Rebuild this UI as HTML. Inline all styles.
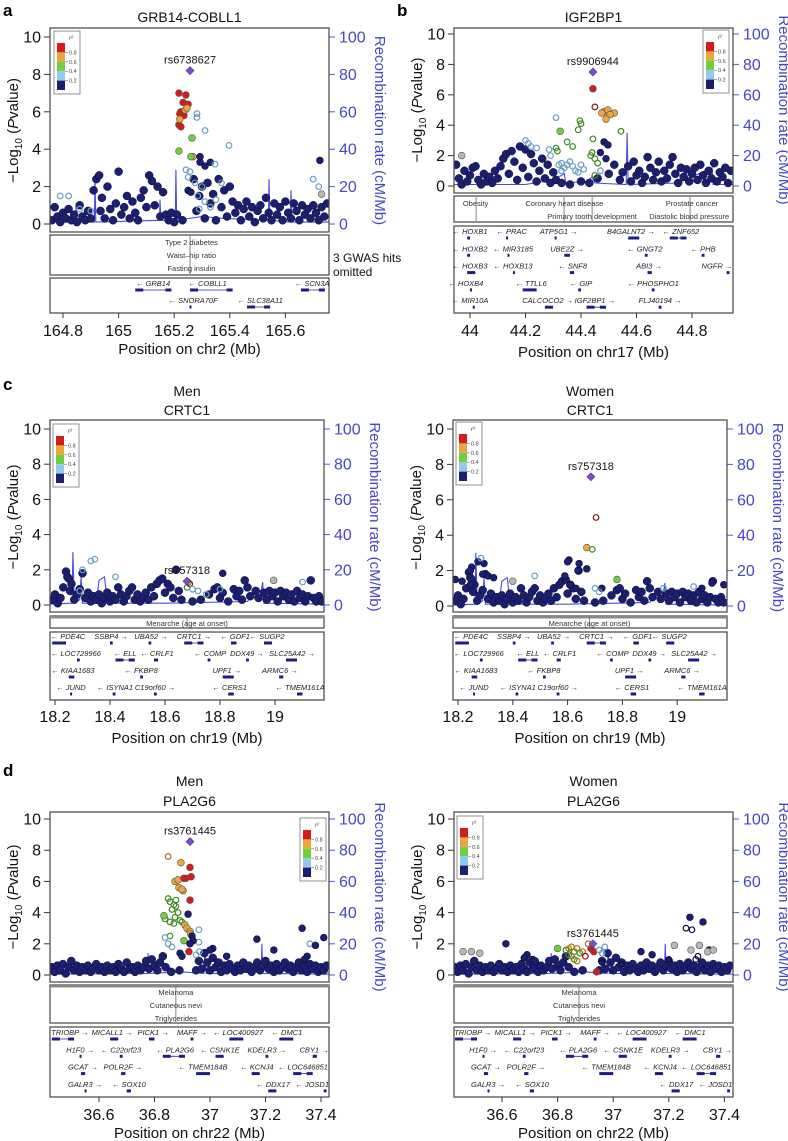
<!DOCTYPE html>
<html><head><meta charset="utf-8"><style>
body{margin:0;background:#fff}
svg{display:block;font-family:"Liberation Sans",sans-serif}
</style></head><body>
<svg id="fig" width="788" height="1141" viewBox="0 0 788 1141" xmlns="http://www.w3.org/2000/svg"></svg>
<script>
// ---------- DATA ----------
const yTicks=[0,2,4,6,8,10];
const rTicks=[0,20,40,60,80,100];
const ldLabels=["0.8","0.6","0.4","0.2"];
const ticksA=[164.8,165,165.2,165.4,165.6];
const ticksB=[44,44.2,44.4,44.6,44.8];
const ticksC=[18.2,18.4,18.6,18.8,19];
const ticksD=[36.6,36.8,37,37.2,37.4];
// flat [pos, -log10p]
const bgA=[164.76,0.2,164.77,0.9,164.78,0.4,164.79,0.1,164.80,0.6,164.81,0.3,164.82,0.8,164.83,0.2,164.84,0.5,164.85,0.1,164.86,1.0,164.87,0.4,164.88,0.2,164.89,0.7,164.90,0.3,164.91,1.8,164.92,2.4,164.93,2.6,164.935,0.7,164.94,1.4,164.95,0.3,164.96,2.0,164.97,0.8,164.98,0.2,164.99,1.1,165.00,2.8,165.01,0.5,165.02,0.9,165.03,1.5,165.04,0.3,165.05,1.2,165.06,0.6,165.07,0.2,165.08,1.4,165.09,1.8,165.10,0.9,165.11,2.6,165.12,2.3,165.13,1.0,165.14,2.0,165.15,0.4,165.16,1.7,165.17,0.5,165.18,0.2,165.19,0.6,165.20,0.1,165.21,0.5,165.23,0.2,165.27,2.4,165.28,0.7,165.29,1.5,165.30,2.0,165.31,0.3,165.32,2.2,165.33,1.1,165.34,1.6,165.35,0.2,165.36,2.4,165.37,0.9,165.38,1.8,165.39,0.4,165.40,2.0,165.41,1.2,165.42,0.6,165.43,1.0,165.44,0.2,165.45,0.8,165.46,1.2,165.47,0.4,165.48,0.9,165.49,0.1,165.50,0.7,165.51,1.0,165.52,0.3,165.53,1.4,165.54,0.6,165.55,0.2,165.56,1.1,165.57,0.5,165.58,0.9,165.59,0.2,165.60,1.2,165.61,0.6,165.62,0.3,165.63,1.1,165.64,0.7,165.65,0.2,165.66,1.0,165.67,0.5,165.68,0.8,165.69,0.3,165.70,1.0,165.71,0.6,165.72,0.2,165.73,0.9,165.74,0.4,165.75,1.1];
const bgB=[43.95,1.4,43.96,0.5,43.97,0.1,43.98,1.0,43.99,0.3,44.00,0.7,44.01,1.2,44.02,1.3,44.03,0.4,44.04,0.1,44.05,0.8,44.06,0.3,44.07,0.6,44.08,0.2,44.09,1.0,44.10,0.5,44.11,1.3,44.12,1.8,44.13,2.1,44.14,0.8,44.15,2.3,44.16,1.6,44.17,0.4,44.18,2.6,44.19,1.2,44.20,2.4,44.21,0.6,44.22,2.1,44.23,1.5,44.24,0.3,44.25,1.0,44.26,1.8,44.27,0.5,44.28,1.4,44.29,0.2,44.30,0.9,44.31,0.4,44.33,0.2,44.36,0.1,44.40,0.3,44.43,0.2,44.46,0.5,44.50,0.8,44.52,1.4,44.54,0.4,44.55,0.9,44.57,1.3,44.58,0.3,44.59,1.6,44.60,0.7,44.61,1.0,44.62,0.2,44.63,0.6,44.64,1.9,44.65,1.2,44.66,0.4,44.67,0.9,44.68,1.6,44.69,0.3,44.70,1.0,44.71,0.5,44.72,1.4,44.73,1.9,44.74,0.8,44.75,0.2,44.76,1.2,44.77,0.6,44.78,1.1,44.79,0.3,44.80,0.8,44.81,1.2,44.82,0.4,44.83,1.4,44.84,0.7,44.85,0.2,44.86,1.0,44.87,0.5,44.88,1.5,44.89,0.3,44.90,0.9,44.91,0.6,44.92,1.2,44.93,0.2,44.94,1.0];
const bgC=[18.19,0.3,18.20,0.6,18.21,0.1,18.22,0.4,18.23,1.0,18.24,1.9,18.245,1.6,18.25,1.5,18.255,0.8,18.26,1.2,18.27,0.3,18.28,0.6,18.29,0.9,18.30,1.8,18.31,0.4,18.32,0.7,18.33,0.2,18.34,0.5,18.35,0.3,18.36,0.6,18.37,0.1,18.38,0.4,18.39,0.7,18.40,0.2,18.41,0.5,18.42,0.3,18.43,1.0,18.44,0.6,18.45,0.2,18.46,0.5,18.47,0.8,18.48,1.0,18.49,0.3,18.50,0.6,18.51,0.2,18.52,0.4,18.53,0.7,18.54,0.3,18.55,1.0,18.56,0.5,18.57,1.2,18.58,1.4,18.59,1.5,18.60,0.7,18.61,1.2,18.62,1.0,18.63,0.4,18.64,2.0,18.65,0.8,18.66,0.3,18.70,0.2,18.73,0.3,18.76,0.6,18.78,0.9,18.79,1.0,18.80,0.4,18.81,0.7,18.83,0.2,18.85,0.9,18.86,0.5,18.87,0.8,18.88,0.3,18.89,1.4,18.90,1.0,18.91,0.5,18.93,0.8,18.94,0.4,18.96,0.7,18.97,0.3,18.98,0.8,18.99,0.5,19.00,0.7,19.01,0.2,19.02,0.8,19.03,0.5,19.04,0.7,19.05,0.3,19.06,0.6,19.07,0.2,19.08,0.8,19.09,0.4,19.10,0.6,19.11,0.2,19.12,0.5,19.13,1.4,19.14,0.4,19.15,0.2,19.16,0.5,19.17,0.2];
const bgD=[36.43,0.5,36.44,0.2,36.45,0.6,36.46,0.3,36.47,0.7,36.48,0.1,36.49,0.5,36.50,0.9,36.51,0.3,36.52,0.6,36.53,0.2,36.54,0.5,36.55,0.3,36.56,0.6,36.57,0.2,36.58,0.4,36.59,0.7,36.60,0.3,36.61,0.5,36.62,0.2,36.63,0.6,36.64,0.3,36.65,0.5,36.66,0.2,36.67,0.7,36.68,0.4,36.69,0.2,36.70,0.8,36.71,0.4,36.72,0.5,36.73,0.2,36.74,0.6,36.75,0.3,36.76,0.5,36.77,0.9,36.78,0.4,36.79,1.0,36.80,0.6,36.81,0.3,36.82,0.8,36.83,1.2,36.84,0.5,36.86,0.2,36.89,0.3,36.95,0.3,36.96,0.9,36.97,0.4,36.98,1.4,36.99,0.8,37.00,0.3,37.01,1.1,37.02,0.5,37.03,0.8,37.04,0.2,37.05,0.6,37.06,0.3,37.07,0.7,37.08,0.4,37.09,0.2,37.10,0.6,37.11,0.3,37.12,0.8,37.13,0.4,37.14,0.6,37.15,0.2,37.16,0.5,37.17,0.8,37.18,0.3,37.19,0.6,37.20,0.9,37.21,0.4,37.22,0.6,37.23,0.2,37.24,0.7,37.25,0.3,37.26,0.5,37.27,0.8,37.28,0.4,37.29,0.6,37.30,0.2,37.31,0.5,37.32,0.8,37.33,0.3,37.34,0.6,37.35,0.2,37.36,0.7,37.37,0.4,37.38,0.6,37.39,0.2,37.40,0.5,37.41,0.3,37.42,0.6];
// flat [pos, -log10p, ldClass(0 navy..4 red,5 grey), hollow]
const sigA=[165.217,7.0,4,0,165.242,6.9,4,0,165.232,6.5,4,0,165.25,6.4,4,0,165.224,6.0,4,0,165.22,5.9,4,0,165.235,5.8,4,0,165.217,5.3,4,0,165.224,5.2,4,0,165.24,6.1,3,0,165.246,6.2,3,0,165.22,5.6,3,0,165.268,3.6,3,0,165.264,4.6,2,0,165.217,3.9,2,0,165.26,3.6,2,0,165.282,5.9,1,1,165.282,5.7,1,1,165.311,5.0,1,1,165.397,4.2,1,1,165.242,2.9,1,1,165.257,2.8,1,1,165.25,2.5,1,1,165.275,2.2,1,1,165.30,2.0,1,1,165.285,1.5,1,1,165.31,1.2,1,1,165.33,0.9,1,1,165.35,1.3,1,1,165.29,0.8,1,1,165.37,2.2,1,1,165.293,3.6,0,0,165.293,3.3,0,0,165.311,3.1,0,0,165.33,3.3,0,0,165.347,3.2,1,1,165.25,1.8,0,0,165.26,1.7,0,0,164.79,1.5,1,1,164.82,1.5,1,1,164.86,0.8,1,1,164.9,0.7,1,1,165.7,2.4,1,1,165.72,2.0,1,1,165.73,1.6,5,0,165.724,3.4,0,0];
const sigB=[44.443,6.4,4,0,44.45,5.2,4,1,44.483,4.9,3,0,44.475,4.8,3,0,44.497,5.0,3,0,44.52,4.8,3,0,44.505,4.7,3,0,44.49,4.4,3,0,44.396,4.3,2,1,44.40,4.1,2,1,44.39,3.7,2,1,44.443,3.1,2,1,44.435,2.0,2,1,44.44,2.2,2,1,44.45,1.8,2,1,44.46,1.5,2,1,44.45,0.7,2,1,44.544,3.6,2,1,44.31,2.5,2,1,44.315,2.3,2,1,44.35,2.9,2,1,44.37,2.6,2,1,44.325,3.6,2,0,44.31,4.5,1,1,44.20,3.0,1,1,44.21,2.8,1,1,44.22,2.6,1,1,44.24,2.5,1,1,44.285,2.4,1,1,44.29,2.0,1,1,44.32,1.4,1,1,44.33,1.5,1,1,44.34,1.2,1,1,44.35,1.4,1,1,44.36,1.6,1,1,44.37,1.3,1,1,44.38,1.0,1,1,44.39,0.9,1,1,44.40,1.4,1,1,44.41,1.1,1,1,44.33,1.0,1,1,44.47,1.0,1,1,44.483,2.9,0,0,44.497,2.7,0,0,44.47,2.2,0,0,44.49,1.8,0,0,43.97,2.0,5,0];
const sigC1=[18.685,1.3,3,1,18.69,1.2,4,1,18.68,1.0,2,1,18.70,0.9,1,1,18.72,0.8,1,1,18.75,0.6,1,1,18.33,2.5,1,1,18.345,2.6,1,1,18.30,2.0,1,1,18.42,1.6,1,1,18.29,0.8,1,1,18.81,1.8,0,0,18.995,1.4,5,0,19.1,1.3,1,1,18.80,0.9,1,1];
const sigC2=[18.704,5.0,4,1,18.67,3.3,3,0,18.69,3.2,2,1,18.605,2.6,0,0,18.60,2.5,0,0,18.642,2.4,0,0,18.67,2.1,0,0,18.638,2.0,0,0,18.595,1.5,0,0,18.59,1.7,0,0,18.61,1.2,0,0,18.63,1.0,0,0,18.725,1.0,0,0,18.78,1.5,2,0,18.70,1.0,1,1,18.715,0.8,1,1,18.273,2.5,0,0,18.295,2.4,0,0,18.25,2.2,0,0,18.245,2.0,0,0,18.29,1.8,0,0,18.31,1.7,0,0,18.33,1.6,0,0,18.19,1.5,0,0,18.215,1.4,0,0,18.245,1.2,0,0,18.284,2.7,1,1,18.48,1.7,1,1,18.4,1.4,5,0,19.127,1.3,0,0,19.17,1.2,0,0,19.09,1.0,0,0,19.06,1.1,1,1,18.95,1.0,1,1];
const sigD1=[36.849,7.6,3,1,36.895,7.2,3,0,36.874,6.0,3,0,36.885,6.1,3,0,36.906,6.2,4,0,36.913,6.2,4,0,36.928,6.9,4,0,36.932,6.3,4,0,36.888,5.6,3,0,36.903,5.4,3,0,36.899,5.5,3,0,36.928,4.8,4,0,36.849,4.9,2,1,36.856,4.7,2,1,36.870,4.5,2,1,36.863,4.2,2,1,36.877,4.4,2,1,36.877,4.8,2,1,36.885,4.0,2,1,36.874,3.7,2,1,36.838,3.6,2,1,36.856,3.4,2,1,36.870,3.3,2,1,36.892,3.5,2,1,36.899,3.4,2,1,36.91,3.2,3,0,36.917,3.0,3,0,36.928,2.8,3,0,36.93,2.65,3,0,36.856,2.5,2,1,36.834,3.8,2,0,36.906,2.2,2,0,36.838,2.4,1,1,36.849,2.0,1,1,36.863,1.8,1,1,36.96,2.9,1,1,36.96,2.1,1,1,36.962,1.5,1,1,36.95,1.3,1,1,36.921,3.9,0,0,36.935,2.5,0,0,36.939,2.2,0,0,36.928,2.0,0,0,36.892,1.4,0,0,36.899,1.2,0,0,36.924,1.5,4,0,37.169,2.3,0,0,37.23,1.6,0,0,37.332,3.0,0,0,37.36,2.0,1,1,37.41,2.4,0,0,37.35,1.2,0,0,37.34,1.0,0,0,37.01,1.7,0,0,37.0,1.6,0,0,37.06,1.2,0,0,37.38,1.9,0,0];
const sigD2=[36.83,1.6,2,1,36.84,1.7,3,1,36.85,1.8,3,1,36.86,1.5,2,1,36.87,1.7,3,1,36.88,1.4,2,1,36.85,1.2,3,1,36.86,1.0,2,1,36.87,0.9,3,1,36.84,1.3,2,1,36.89,1.5,3,1,36.9,1.2,4,1,36.92,1.7,4,0,36.93,1.5,4,0,36.91,2.0,3,1,36.95,1.6,1,1,36.96,1.4,1,1,36.97,1.8,1,1,36.80,1.7,2,0,36.614,2.0,0,0,37.276,3.7,0,0,37.323,3.4,0,0,37.262,3.0,0,1,37.283,2.9,0,1,37.297,1.0,0,1,37.305,1.2,0,1,37.345,1.6,0,0,36.46,1.5,5,0,36.49,1.5,5,0,36.52,1.4,5,0,37.22,1.9,5,0,37.28,1.6,5,0,37.31,1.9,5,0,37.34,1.5,5,0,37.36,1.6,5,0,36.69,1.3,0,0,36.71,1.0,0,0,36.68,1.1,0,0,36.72,0.9,0,0,37.14,1.3,0,0,37.1,1.5,0,0,36.96,0.8,0,1,37.03,0.7,0,1,37.2,1.0,0,1,36.94,0.2,4,0];
// lead SNPs [pos, -log10p]
const leadA=[165.257,8.2], leadB=[44.443,7.5], leadC1=[18.68,1.35], leadC2=[18.685,7.3], leadD1=[36.928,8.55], leadD2=[36.927,2.0];
const leadNames=["rs6738627","rs9906944","rs757318","rs757318","rs3761445","rs3761445"];
// recombination flat [pos, cM/Mb]
const recA=[164.753,1,164.845,1,164.847,10,164.85,1,164.913,1,164.915,25,164.918,1,165.147,2,165.149,13,165.152,2,165.204,2,165.206,29,165.209,2,165.3,4,165.38,3,165.539,2,165.541,24,165.544,2,165.618,1,165.62,18,165.623,1,165.757,1];
const recB=[43.942,1,44.2,1,44.3,4,44.34,8,44.345,2,44.42,3,44.44,6,44.45,2,44.563,1,44.566,35,44.57,1,44.75,2,44.872,12,44.876,1,44.948,1];
const recC=[18.182,0.5,18.262,1,18.265,30,18.27,1,18.29,3,18.295,16,18.30,1,18.35,1,18.36,14,18.38,16,18.39,1,18.6,1,18.9,2,18.93,9,18.95,8,18.955,13,18.96,1,19.178,0.5];
const recD=[36.423,0.5,36.775,1,36.777,14,36.78,1,36.9,2,36.978,1,36.982,16,36.986,1,37.04,1,37.042,10,37.045,1,37.12,4,37.185,2,37.187,20,37.19,1,37.431,0.5];
// genes: [name, labelPos, row, dir, start, end]
const genesA=[["GRB14",165.124,0,-1,165.06,165.19],["COBLL1",165.32,0,-1,165.257,165.41],["SCN3A",165.696,0,-1,165.656,165.742],["SNORA70F",165.268,1,-1,165.255,165.259],["SLC38A11",165.509,1,-1,165.462,165.545]];
const genesB=[["HOXB1",44.00,0,-1,43.99,44.0],["PRAC",44.15,0,-1,44.13,44.135],["ATP5G1",44.32,0,1,44.305,44.31],["B4GALNT2",44.58,0,1,44.57,44.61],["ZNF652",44.76,0,-1,44.72,44.78],["HOXB2",44.00,1,-1,43.99,44.0],["MIR3185",44.155,1,-1,44.135,44.137],["UBE2Z",44.35,1,1,44.34,44.36],["GNGT2",44.63,1,-1,44.63,44.64],["PHB",44.84,1,-1,44.835,44.845],["HOXB3",44.0,2,-1,43.99,44.02],["HOXB13",44.155,2,-1,44.155,44.16],["SNF8",44.37,2,-1,44.36,44.375],["ABI3",44.645,2,1,44.64,44.655],["NGFR",44.89,2,1,44.925,44.935],["HOXB4",43.985,3,-1,44.0,44.005],["TTLL6",44.22,3,-1,44.19,44.24],["GIP",44.40,3,-1,44.39,44.4],["PHOSPHO1",44.66,3,-1,44.655,44.665],["MIR10A",44.0,4,-1,44.01,44.012],["CALCOCO2",44.28,4,1,44.27,44.3],["IGF2BP1",44.45,4,1,44.42,44.49],["FLJ40194",44.685,4,1,44.68,44.69]];
const genesC=[["PDE4C",18.247,0,-1,18.19,18.24],["SSBP4",18.404,0,1,18.4,18.41],["UBA52",18.549,0,1,18.54,18.55],["CRTC1",18.705,0,1,18.67,18.74],["GDF1",18.855,0,-1,18.84,18.86],["SUGP2",18.971,0,-1,18.96,18.99],["LOC729966",18.276,1,-1,18.28,18.29],["ELL",18.455,1,-1,18.42,18.49],["CRLF1",18.571,1,-1,18.56,18.575],["COMP",18.764,1,-1,18.755,18.765],["DDX49",18.898,1,1,18.895,18.905],["SLC25A42",19.062,1,1,19.04,19.08],["KIAA1683",18.265,2,-1,18.25,18.27],["FKBP8",18.513,2,-1,18.51,18.52],["UPF1",18.825,2,1,18.81,18.85],["ARMC6",19.018,2,1,19.015,19.03],["JUND",18.258,3,-1,18.255,18.26],["ISYNA1",18.418,3,-1,18.41,18.42],["C19orf60",18.564,3,1,18.56,18.57],["CERS1",18.835,3,-1,18.83,18.85],["TMEM161A",19.091,3,-1,19.08,19.1]];
const genesD=[["TRIOBP",36.495,0,1,36.43,36.51],["MICALL1",36.647,0,1,36.64,36.67],["PICK1",36.795,0,1,36.78,36.8],["MAFF",36.935,0,1,36.93,36.94],["LOC400927",37.101,0,-1,37.07,37.12],["DMC1",37.277,0,-1,37.25,37.3],["H1F0",36.532,1,1,36.53,36.535],["C22orf23",36.679,1,-1,36.675,36.685],["PLA2G6",36.874,1,-1,36.83,36.91],["CSNK1E",37.036,1,-1,37.02,37.05],["KDELR3",37.205,1,1,37.2,37.21],["CBY1",37.375,1,1,37.37,37.385],["GCAT",36.542,2,1,36.535,36.55],["POLR2F",36.686,2,1,36.68,36.695],["TMEM184B",36.975,2,-1,36.95,37.0],["KCNJ4",37.169,2,-1,37.15,37.18],["LOC646851",37.335,2,-1,37.3,37.37],["GALR3",36.550,3,1,36.548,36.552],["SOX10",36.708,3,-1,36.7,36.715],["DDX17",37.227,3,-1,37.21,37.24],["JOSD1",37.368,3,-1,37.41,37.42]];
// GWAS catalog annotations: [text, pos, row]
const annA=[["Type 2 diabetes",165.262,0],["Waist\u2013hip ratio",165.262,1],["Fasting insulin",165.262,2]];
const annLineA=[165.257];
const annB=[["Obesity",44.02,0],["Coronary heart disease",44.34,0],["Prostate cancer",44.80,0],["Primary tooth development",44.44,1],["Diastolic blood pressure",44.79,1]];
const annLineB=[44.022,44.339,44.44,44.793];
const annC=[["Menarche (age at onset)",18.68,0]];
const annLineC=[18.68];
const annD=[["Melanoma",36.877,0],["Cutaneous nevi",36.877,1],["Triglycerides",36.877,2]];
const annLineD=[36.877];

// ---------- RENDER ----------
const NS="http://www.w3.org/2000/svg";
const svg=document.getElementById('fig');
const LD=['#1c1f6e','#92cbea','#6fcf3c','#eda63c','#d41c1c','#b8b8b8'];
const LDS=['#0b0c3a','#5a8fb0','#3f8a20','#a8701c','#8a1010','#999'];
function el(tag,attrs,parent,txt){const e=document.createElementNS(NS,tag);for(const k in attrs)e.setAttribute(k,attrs[k]);if(txt!==undefined)e.textContent=txt;(parent||svg).appendChild(e);return e;}

function panel(c){
  const g=el('g',{});
  
  
  const X=v=>c.t0px+(v-c.t0)*c.ppm;
  const Y=v=>c.y0-v*(c.y0-c.y10)/10;
  const clip=el('clipPath',{id:'clip'+c.id},g);
  el('rect',{x:c.L,y:c.T,width:c.R-c.L,height:c.B-c.T},clip);
  c.titles.forEach((t,i)=>{const e=el('text',{x:(c.L+c.R)/2,y:c.titleY[i],'text-anchor':'middle','font-size':14,fill:'#111'},g,t);
    
    });
  if(c.letter){const e=el('text',{x:c.letter[1],y:c.letter[2],'font-size':17,'font-weight':'bold',fill:'#000'},g,c.letter[0]);
    
    }
  yTicks.forEach(t=>{el('line',{x1:c.L-6,x2:c.L,y1:Y(t),y2:Y(t),stroke:'#333'},g);
    const e=el('text',{x:c.L-9,y:Y(t)+5.5,'text-anchor':'end','font-size':16,fill:'#111'},g,t);
    
    });
  rTicks.forEach(t=>{const yy=Y(t/10);el('line',{x1:c.R,x2:c.R+6,y1:yy,y2:yy,stroke:'#5555dd'},g);
    const e=el('text',{x:c.R+10,y:yy+5.5,'font-size':16,fill:'#4545cc'},g,t);
    
    });
  const ym=(c.y0+c.y10)/2;
  const yl=el('text',{x:0,y:0,transform:`translate(${c.L-32},${ym}) rotate(-90)`,'text-anchor':'middle','font-size':15,fill:'#111'},g);
  
  
  el('tspan',{},yl,'\u2212Log');el('tspan',{'font-size':10,dy:4},yl,'10');el('tspan',{dy:-4},yl,' (');el('tspan',{'font-style':'italic'},yl,'P');el('tspan',{},yl,'value)');
  const rl=el('text',{x:0,y:0,transform:`translate(${c.R+46},${ym}) rotate(90)`,'text-anchor':'middle','font-size':15,fill:'#4545cc'},g,'Recombination rate (cM/Mb)');
  
  
  const pg=el('g',{'clip-path':`url(#clip${c.id})`},g);
  let pts=[];for(let i=0;i<c.rec.length;i+=2)pts.push(X(c.rec[i]).toFixed(1)+','+Y(c.rec[i+1]/10).toFixed(1));
  const rp=el('polyline',{points:pts.join(' '),fill:'none',stroke:'#4a4ae0','stroke-width':1.1},pg);
  
  
  for(let i=0;i<c.bg.length;i+=2){const p=el('circle',{cx:X(c.bg[i]),cy:Y(c.bg[i+1]),r:4,fill:LD[0],stroke:LDS[0],'stroke-width':0.5},pg);
    
    }
  for(let i=0;i<c.sig.length;i+=4){const k=c.sig[i+2],h=c.sig[i+3];
    const p=el('circle',{cx:X(c.sig[i]),cy:Y(c.sig[i+1]),r:h?2.8:3.4,fill:h?'none':LD[k],stroke:h?LD[k]:(k==0?LDS[0]:'#555'),'stroke-width':h?1.2:0.6},pg);
    if(h)p.setAttribute('stroke',k==1?'#6a9ec0':LDS[k]);
    
    }
  const lx=X(c.lead[0]),ly=Y(c.lead[1]);
  const ld=el('path',{d:`M${lx},${ly-4}L${lx+4},${ly}L${lx},${ly+4}L${lx-4},${ly}Z`,fill:'#7a4fc8',stroke:'#4a2a90','stroke-width':0.6},pg);
  
  
  const lt=el('text',{x:lx,y:ly-7,'text-anchor':'middle','font-size':11,fill:'#111'},g,c.leadName);
  
  
  const box=el('rect',{x:c.L,y:c.T,width:c.R-c.L,height:c.B-c.T,fill:'none',stroke:'#444','stroke-width':1.2},g);
  
  
  const lg=el('g',{},g);
  
  
  el('rect',{x:c.leg[0],y:c.leg[1],width:26,height:63,fill:'#fff',stroke:'#777','stroke-width':0.8},lg);
  el('text',{x:c.leg[0]+15,y:c.leg[1]+9,'font-size':6,'font-style':'italic',fill:'#333'},lg,'r\u00b2');
  for(let j=0;j<5;j++)el('rect',{x:c.leg[0]+3,y:c.leg[1]+12+j*9.4,width:8,height:9.4,fill:LD[4-j]},lg);
  ldLabels.forEach((s,j)=>{const yy=c.leg[1]+12+(j+1)*9.4;el('line',{x1:c.leg[0]+11,x2:c.leg[0]+14,y1:yy,y2:yy,stroke:'#555','stroke-width':0.5},lg);
    el('text',{x:c.leg[0]+15,y:yy+2,'font-size':5.5,fill:'#444'},lg,s);});
  const ab=el('rect',{x:c.L,y:c.ann[0],width:c.R-c.L,height:c.ann[1]-c.ann[0],fill:'none',stroke:'#444','stroke-width':1.2},g);
  
  
  if(c.annThick)el('rect',{x:c.L,y:c.ann[0],width:c.R-c.L,height:2.5,fill:'#888'},g);
  c.annLines.forEach(p=>el('line',{x1:X(p),x2:X(p),y1:c.ann[0]+1,y2:c.ann[1]-1,stroke:'#666','stroke-width':0.8},g));
  c.annTxt.forEach(a=>{const e=el('text',{x:X(a[1]),y:c.ann[0]+c.annY0+a[2]*13,'text-anchor':'middle','font-size':7.5,fill:'#333'},g,a[0]);
    
    });
  const gb=el('rect',{x:c.L,y:c.gene[0],width:c.R-c.L,height:c.gene[1]-c.gene[0],fill:'none',stroke:'#444','stroke-width':1.2},g);
  
  
  c.genes.forEach(gn=>{const yy=c.gene[0]+c.rowY0+gn[2]*c.rowH;
    const label=gn[3]<0?'\u2190 '+gn[0]:gn[0]+' \u2192';
    const e=el('text',{x:X(gn[1]),y:yy,'text-anchor':'middle','font-size':7.5,'font-style':'italic',fill:'#222'},g,label);
    
    
    const x1=Math.max(c.L+1,X(gn[4])),x2=Math.min(c.R-1,X(gn[5]));
    el('line',{x1:x1,x2:Math.max(x2,x1+1),y1:yy+4,y2:yy+4,stroke:'#2a2a9a','stroke-width':0.8},g);
    el('rect',{x:x1,y:yy+2.5,width:Math.max(2,Math.min(8,x2-x1)),height:3,fill:'#1c1f7e'},g);
    if(x2-x1>10)el('rect',{x:x2-6,y:yy+2.5,width:6,height:3,fill:'#1c1f7e'},g);});
  c.ticks.forEach(t=>{el('line',{x1:X(t),x2:X(t),y1:c.gene[1],y2:c.gene[1]+5,stroke:'#333'},g);
    const e=el('text',{x:X(t),y:c.tickY,'text-anchor':'middle','font-size':16,fill:'#111'},g,t);
    
    });
  const xt=el('text',{x:(c.L+c.R)/2,y:c.xTitleY,'text-anchor':'middle','font-size':15,fill:'#111'},g,'Position on '+c.chr+' (Mb)');
  
  
}

panel({id:'a',letter:['a',3,16],titles:['GRB14-COBLL1'],titleY:[22],L:50,R:329,T:28,B:232,y10:37,y0:224,t0:164.8,t0px:63,ppm:278,ticks:ticksA,bg:bgA,sig:sigA,lead:leadA,leadName:leadNames[0],rec:recA,leg:[54,31],ann:[235,275],annY0:10,annTxt:annA,annLines:annLineA,gene:[278,313],rowY0:8,rowH:17,genes:genesA,tickY:336,xTitleY:354,chr:'chr2'});
panel({id:'b',letter:['b',397,16],titles:['IGF2BP1'],titleY:[22],L:454,R:733,T:28,B:193,y10:34,y0:186,t0:44,t0px:470,ppm:277.5,ticks:ticksB,bg:bgB,sig:sigB,lead:leadB,leadName:leadNames[1],rec:recB,leg:[703,30],ann:[196,222],annY0:10,annTxt:annB,annLines:annLineB,gene:[226,313],rowY0:8,rowH:17.3,genes:genesB,tickY:336,xTitleY:357,chr:'chr17'});
panel({id:'c-men',letter:['c',3,390],titles:['Men','CRTC1'],titleY:[396,415],L:50,R:324,T:420,B:612,y10:429,y0:605,t0:18.2,t0px:55,ppm:275,ticks:ticksC,bg:bgC,sig:sigC1,lead:leadC1,leadName:leadNames[2],rec:recC,leg:[53,424],ann:[616,628],annThick:1,annY0:10,annTxt:annC,annLines:annLineC,gene:[632,700],rowY0:7,rowH:17,genes:genesC,tickY:722,xTitleY:743,chr:'chr19'});
panel({id:'c-women',titles:['Women','CRTC1'],titleY:[396,415],L:453,R:727,T:420,B:612,y10:429,y0:606,t0:18.2,t0px:458,ppm:274,ticks:ticksC,bg:bgC,sig:sigC2,lead:leadC2,leadName:leadNames[3],rec:recC,leg:[456,422],ann:[616,628],annThick:1,annY0:10,annTxt:annC,annLines:annLineC,gene:[632,700],rowY0:7,rowH:17,genes:genesC,tickY:722,xTitleY:743,chr:'chr19'});
panel({id:'d-men',letter:['d',3,776],titles:['Men','PLA2G6'],titleY:[786,806],L:50,R:329,T:812,B:982,y10:819,y0:975,t0:36.6,t0px:99,ppm:277.5,ticks:ticksD,bg:bgD,sig:sigD1,lead:leadD1,leadName:leadNames[4],rec:recD,leg:[300,818],ann:[985,1023],annThick:1,annY0:10,annTxt:annD,annLines:annLineD,gene:[1027,1097],rowY0:8,rowH:17.3,genes:genesD,tickY:1120,xTitleY:1138,chr:'chr22'});
panel({id:'d-women',titles:['Women','PLA2G6'],titleY:[786,806],L:454,R:733,T:812,B:982,y10:819,y0:975,t0:36.6,t0px:502,ppm:278,ticks:ticksD,bg:bgD,sig:sigD2,lead:leadD2,leadName:leadNames[5],rec:recD,leg:[457,816],ann:[985,1023],annThick:1,annY0:10,annTxt:annD,annLines:annLineD,gene:[1027,1097],rowY0:8,rowH:17.3,genes:genesD,tickY:1120,xTitleY:1138,chr:'chr22'});

const om=el('text',{x:333,y:262,'font-size':12,fill:'#111'});


el('tspan',{x:333},om,'3 GWAS hits');el('tspan',{x:333,dy:14},om,'omitted');
</script>
</body></html>
